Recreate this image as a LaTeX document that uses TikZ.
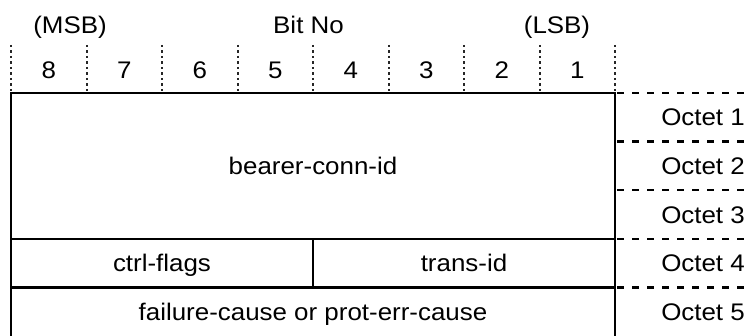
\documentclass[tikz,border=0pt]{standalone}
\usepackage{fontspec}
\setmainfont{Liberation Sans}[FakeStretch=1.08]
\usepackage{tikz}

\begin{document}
\begin{tikzpicture}[x=1pt,y=-1pt,
  lbl/.style={anchor=base,inner sep=0pt,font=\fontsize{24}{28}\selectfont},
  frame/.style={line width=2.3pt},
  octline/.style={line width=2.3pt,dash pattern=on 7pt off 8pt},
  bitline/.style={line width=2pt,dash pattern=on 2.5pt off 3pt,black!85}]
 \useasboundingbox (0,0) rectangle (750,336);
 % header
 \node[lbl] (msb) at (70,33.5) {(MSB)};
 \node[lbl] (bitno) at (308.5,33.5) {Bit No};
 \node[lbl] (lsb) at (557,33.5) {(LSB)};
 % bit columns
 \foreach \i in {0,1,...,8} {   % column marks
 \draw[bitline] (11+75.5*\i,45) -- (11+75.5*\i,91);
 }
 \foreach \b [count=\i from 0] in {8,7,...,1} {   % bit numbers
 \node[lbl] (bit\b) at (48.75+75.5*\i,78.5) {\b};
 }
 % frame
 \draw[frame] (11,336) -- (11,93) -- (615,93) -- (615,336);
 \draw[frame] (11,238.8) -- (615,238.8);
 \draw[frame] (11,287.4) -- (615,287.4);
 \draw[frame] (313,238.8) -- (313,287.4);
 % octet separators
 \foreach \y in {93,141.6,190.2,238.8,287.4} {
 \draw[octline] (617,\y) -- (746,\y);
 }
 % the fields
 \node[lbl] (bearer) at (313,174.6) {bearer-conn-id};
 \node[lbl] (ctrl) at (162,271.8) {ctrl-flags};
 \node[lbl] (trans) at (464,271.8) {trans-id};
 \node[lbl] (cause) at (313,320.4) {failure-cause or prot-err-cause};
 % octet numbers
 \foreach \n [count=\i from 0] in {1,...,5} {
 \node[lbl,anchor=base east] (oct\n) at (745,126+48.6*\i) {Octet \n};
 }
\end{tikzpicture}
\end{document}
